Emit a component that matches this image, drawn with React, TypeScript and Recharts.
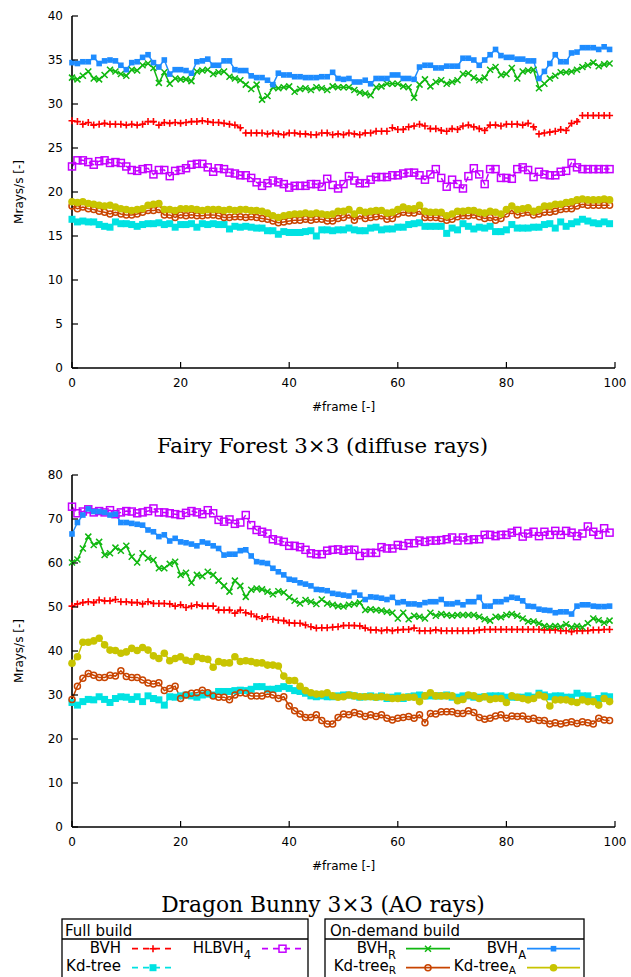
import { LineChart, Line, XAxis, YAxis } from 'recharts';

// frame index 0..99 (x categories)
const frames = Array.from({ length: 100 }, (_, i) => i);
const xTicks = [0, 20, 40, 60, 80, 100];
const ffTicks = [0, 5, 10, 15, 20, 25, 30, 35, 40];
const dbTicks = [0, 10, 20, 30, 40, 50, 60, 70, 80];

// Fairy Forest 3x3 (diffuse rays)
const ffBvh = [
  28.1, 28.0, 27.7, 27.9, 27.6, 27.7, 27.8, 27.7, 27.7, 27.7,
  27.6, 27.7, 27.6, 27.7, 28.0, 28.0, 27.6, 27.9, 27.8, 27.9,
  27.8, 27.9, 28.0, 28.0, 28.1, 28.0, 27.9, 27.9, 27.8, 27.7,
  27.6, 27.3, 26.7, 26.7, 26.7, 26.7, 26.6, 26.7, 26.6, 26.5,
  26.7, 26.7, 26.6, 26.6, 26.5, 26.5, 26.7, 26.7, 26.5, 26.6,
  26.5, 26.7, 26.6, 26.5, 26.7, 26.7, 26.9, 26.9, 26.9, 27.3,
  27.1, 27.1, 27.4, 27.5, 27.7, 27.5, 27.2, 27.2, 27.0, 26.9,
  27.2, 27.1, 27.5, 27.6, 27.4, 27.2, 27.0, 27.6, 27.6, 27.5,
  27.7, 27.7, 27.7, 27.6, 27.8, 27.4, 26.6, 26.7, 26.8, 26.9,
  27.1, 27.0, 27.8, 28.0, 28.7, 28.7, 28.7, 28.7, 28.7, 28.7,
];
const ffHlbvh = [
  22.9, 23.6, 23.6, 23.4, 23.1, 23.5, 23.6, 23.3, 23.4, 23.3,
  22.9, 22.5, 22.4, 22.6, 22.7, 22.0, 22.5, 22.5, 21.8, 22.4,
  22.5, 22.7, 23.1, 23.2, 23.2, 22.8, 22.3, 22.7, 22.6, 22.2,
  22.1, 21.9, 21.9, 21.6, 21.1, 20.7, 21.0, 21.3, 21.1, 20.9,
  20.5, 20.7, 20.7, 20.7, 20.9, 20.9, 20.6, 21.5, 20.8, 20.4,
  20.9, 21.8, 21.3, 21.0, 21.0, 21.4, 21.7, 21.7, 21.7, 21.9,
  21.9, 22.1, 22.2, 22.2, 21.9, 21.4, 22.0, 22.6, 21.6, 20.6,
  21.4, 20.9, 20.4, 21.8, 22.7, 22.0, 20.9, 22.6, 22.6, 21.6,
  21.6, 21.5, 22.6, 22.8, 22.5, 21.7, 22.3, 22.0, 21.9, 21.9,
  22.3, 22.4, 23.3, 22.8, 22.6, 22.6, 22.6, 22.6, 22.6, 22.6,
];
const ffKd = [
  16.9, 16.6, 16.7, 16.6, 16.6, 16.3, 16.1, 16.0, 16.6, 16.4,
  16.4, 16.3, 16.1, 16.3, 16.4, 16.4, 16.5, 16.3, 16.4, 16.0,
  16.3, 16.3, 16.4, 16.0, 16.4, 16.3, 16.4, 16.3, 16.3, 15.8,
  16.1, 16.0, 16.1, 16.0, 15.9, 15.9, 15.6, 15.6, 15.2, 15.5,
  15.4, 15.4, 15.4, 15.5, 15.6, 15.0, 15.7, 15.7, 15.6, 15.7,
  15.7, 15.9, 15.7, 15.6, 15.6, 15.9, 16.0, 15.7, 15.8, 15.8,
  16.0, 16.0, 16.3, 16.4, 16.5, 16.1, 16.1, 16.1, 16.1, 15.3,
  15.9, 15.7, 16.4, 16.1, 15.8, 16.0, 15.9, 16.1, 15.5, 15.5,
  15.7, 16.3, 15.9, 15.9, 15.9, 16.0, 16.0, 16.3, 16.4, 15.9,
  16.6, 16.1, 16.4, 16.6, 16.9, 16.7, 16.5, 16.4, 16.6, 16.4,
];
const ffBvhR = [
  33.0, 32.8, 33.2, 33.7, 32.9, 32.8, 33.3, 33.9, 33.7, 33.4,
  33.2, 33.9, 33.8, 34.4, 34.6, 34.1, 32.4, 33.6, 32.3, 32.9,
  32.8, 32.8, 32.6, 33.7, 33.8, 33.9, 33.4, 33.6, 33.7, 33.1,
  32.9, 32.7, 32.2, 31.7, 32.2, 30.5, 30.9, 31.9, 31.8, 31.9,
  32.0, 31.4, 31.7, 31.8, 31.6, 31.9, 31.8, 31.6, 32.0, 31.9,
  31.9, 31.9, 31.6, 31.3, 31.2, 31.0, 31.9, 32.0, 32.3, 32.3,
  32.3, 32.0, 31.9, 30.7, 32.2, 32.8, 32.0, 32.5, 32.7, 32.3,
  32.5, 32.7, 33.4, 33.5, 33.0, 32.7, 33.0, 33.9, 34.2, 33.3,
  33.4, 34.1, 32.9, 33.7, 33.8, 33.9, 31.8, 32.3, 32.9, 33.2,
  33.6, 33.6, 33.7, 33.9, 34.2, 34.4, 34.7, 34.3, 34.5, 34.6,
];
const ffBvhA = [
  34.7, 34.6, 34.8, 34.8, 35.3, 34.6, 34.9, 35.0, 34.9, 34.4,
  33.9, 34.7, 34.8, 35.3, 35.6, 34.7, 34.2, 35.0, 33.4, 33.9,
  33.9, 33.8, 33.5, 34.8, 34.9, 35.1, 34.4, 34.4, 34.9, 34.9,
  33.9, 33.8, 33.8, 33.2, 33.0, 33.0, 32.7, 32.2, 33.5, 33.3,
  33.3, 33.1, 33.1, 33.0, 33.0, 33.0, 33.1, 33.1, 33.6, 32.9,
  32.8, 32.9, 32.5, 32.5, 32.7, 32.3, 32.9, 32.9, 32.9, 33.3,
  33.3, 32.9, 32.9, 32.8, 34.2, 34.4, 34.4, 34.1, 34.1, 34.3,
  34.3, 34.3, 35.2, 35.2, 35.0, 34.4, 35.0, 35.6, 36.2, 35.5,
  35.3, 35.3, 35.1, 35.1, 34.9, 34.9, 32.9, 33.7, 34.6, 35.6,
  34.8, 34.8, 35.8, 35.9, 36.4, 36.4, 36.4, 36.2, 36.5, 36.2,
];
const ffKdR = [
  18.4, 18.1, 18.3, 18.1, 18.0, 17.8, 17.7, 17.5, 17.7, 17.5,
  17.4, 17.4, 17.5, 17.7, 17.9, 17.9, 18.0, 17.4, 17.4, 17.1,
  17.4, 17.3, 17.4, 17.3, 17.3, 17.4, 17.4, 17.3, 17.1, 17.1,
  17.2, 17.2, 17.1, 17.2, 17.1, 17.0, 16.9, 16.7, 16.5, 16.6,
  16.7, 16.8, 16.8, 16.9, 16.8, 16.9, 16.9, 16.7, 16.7, 17.0,
  17.1, 17.4, 16.8, 17.3, 17.0, 17.1, 17.2, 17.3, 16.9, 17.0,
  17.5, 17.7, 17.6, 17.6, 17.8, 17.1, 17.1, 17.1, 17.0, 16.8,
  16.9, 17.2, 17.3, 17.3, 17.4, 17.2, 17.0, 17.1, 16.8, 17.0,
  17.5, 17.9, 17.4, 17.6, 17.7, 17.4, 17.5, 17.7, 17.7, 17.8,
  18.0, 18.1, 18.1, 18.4, 18.6, 18.5, 18.5, 18.5, 18.5, 18.5,
];
const ffKdA = [
  18.9, 18.8, 18.9, 18.7, 18.6, 18.5, 18.4, 18.5, 18.3, 18.1,
  18.0, 17.9, 18.0, 18.1, 18.5, 18.6, 18.7, 18.0, 18.0, 17.9,
  18.1, 18.1, 18.1, 18.0, 17.9, 18.0, 18.0, 18.0, 17.9, 18.0,
  17.9, 18.0, 18.0, 17.9, 17.9, 17.8, 17.6, 17.3, 17.1, 17.3,
  17.4, 17.5, 17.5, 17.6, 17.5, 17.6, 17.5, 17.4, 17.5, 17.8,
  17.8, 18.0, 17.5, 17.9, 17.7, 17.8, 17.9, 17.9, 17.6, 17.7,
  18.0, 18.3, 18.1, 18.1, 18.5, 17.8, 17.7, 17.7, 17.7, 17.3,
  17.5, 17.8, 17.8, 17.9, 17.9, 17.7, 17.6, 17.8, 17.7, 17.5,
  18.0, 18.4, 18.0, 18.1, 18.2, 17.8, 18.0, 18.4, 18.4, 18.6,
  18.6, 18.8, 18.9, 19.1, 19.2, 19.1, 19.1, 19.1, 19.2, 19.1,
];

// Dragon Bunny 3x3 (AO rays)
const dbBvh = [
  50.2, 50.7, 51.0, 51.2, 51.0, 51.6, 51.4, 51.4, 51.7, 51.2,
  51.2, 51.0, 51.0, 50.7, 51.2, 50.8, 50.8, 50.8, 50.7, 50.2,
  50.5, 49.9, 50.2, 50.5, 50.2, 50.2, 50.2, 49.3, 49.3, 49.3,
  48.6, 49.3, 48.7, 48.4, 47.8, 47.4, 47.8, 47.2, 47.0, 46.9,
  46.4, 46.3, 46.3, 45.9, 45.5, 45.2, 45.3, 45.3, 45.4, 45.5,
  45.8, 45.8, 45.8, 45.7, 45.2, 44.8, 44.8, 44.6, 44.8, 44.6,
  44.8, 44.9, 44.9, 45.2, 44.6, 44.6, 44.6, 44.8, 44.6, 44.6,
  44.6, 44.6, 44.6, 44.6, 44.6, 44.8, 44.9, 44.9, 44.9, 44.9,
  44.9, 44.9, 44.9, 44.9, 44.9, 44.9, 44.9, 44.8, 44.8, 44.8,
  44.6, 44.6, 44.4, 44.6, 44.6, 44.6, 44.8, 44.8, 44.9, 44.9,
];
const dbHlbvh = [
  72.8, 71.3, 71.7, 72.2, 71.5, 71.8, 71.5, 72.0, 71.1, 71.5,
  71.8, 71.7, 71.3, 71.5, 71.8, 72.4, 71.5, 71.5, 71.3, 71.1,
  70.9, 71.4, 71.8, 71.5, 71.1, 72.0, 71.3, 69.8, 69.4, 69.9,
  68.9, 69.2, 70.9, 68.6, 67.5, 67.1, 66.7, 65.4, 65.1, 64.8,
  63.9, 63.9, 63.6, 63.0, 62.2, 62.0, 62.0, 62.8, 63.0, 63.1,
  62.8, 63.0, 63.0, 61.6, 62.3, 62.3, 62.3, 63.6, 63.3, 63.3,
  64.1, 63.9, 64.5, 64.5, 65.1, 64.8, 65.1, 65.1, 65.2, 65.4,
  65.8, 65.1, 65.8, 65.2, 65.4, 65.4, 66.4, 66.4, 66.1, 66.4,
  66.4, 66.9, 67.3, 66.0, 66.7, 67.1, 66.1, 67.1, 66.4, 67.3,
  66.4, 67.3, 66.9, 66.1, 66.7, 68.3, 67.1, 66.4, 67.9, 66.9,
];
const dbKd = [
  28.3, 27.7, 28.5, 29.0, 28.9, 29.6, 29.0, 28.3, 29.2, 29.6,
  29.5, 29.0, 29.6, 28.5, 29.8, 29.2, 28.9, 27.7, 29.6, 29.5,
  29.8, 30.0, 29.8, 29.5, 30.0, 30.2, 30.0, 30.8, 30.8, 30.8,
  31.0, 31.1, 31.0, 31.3, 31.9, 31.9, 31.3, 31.3, 31.5, 31.9,
  31.5, 31.0, 30.8, 30.4, 29.8, 29.6, 29.8, 29.6, 29.6, 29.8,
  30.0, 30.0, 29.8, 29.5, 29.6, 29.8, 29.5, 29.8, 29.2, 29.5,
  29.8, 29.2, 29.6, 29.8, 30.0, 29.8, 29.8, 29.8, 29.8, 30.0,
  29.5, 29.5, 29.8, 29.8, 29.5, 29.5, 29.6, 29.8, 29.8, 29.8,
  29.5, 29.5, 29.5, 29.5, 29.8, 29.5, 30.4, 30.0, 29.6, 29.8,
  29.8, 29.5, 29.5, 30.4, 29.8, 29.8, 28.9, 29.2, 29.8, 29.6,
];
const dbBvhR = [
  60.1, 60.8, 63.3, 66.0, 64.1, 64.8, 61.8, 62.2, 63.5, 62.8,
  63.9, 61.4, 60.1, 62.2, 61.1, 60.7, 58.8, 58.8, 59.8, 60.3,
  57.3, 57.8, 55.5, 57.3, 57.0, 58.0, 57.3, 56.0, 54.8, 53.5,
  56.0, 54.8, 52.3, 53.9, 54.2, 54.0, 53.5, 52.9, 53.6, 53.3,
  52.2, 51.4, 50.8, 51.6, 51.2, 50.7, 51.7, 50.8, 50.5, 50.2,
  50.1, 50.5, 50.7, 51.0, 49.3, 49.5, 49.3, 49.2, 48.9, 48.7,
  47.4, 48.7, 47.2, 48.0, 47.8, 47.4, 48.7, 48.0, 48.4, 48.2,
  48.0, 48.2, 48.2, 48.2, 48.2, 47.8, 47.2, 46.9, 47.8, 47.7,
  48.2, 48.4, 48.0, 47.4, 46.7, 46.7, 46.3, 45.7, 45.5, 45.7,
  45.5, 46.1, 45.4, 45.7, 45.4, 46.3, 47.4, 47.0, 46.4, 46.9,
];
const dbBvhA = [
  66.6, 69.2, 70.9, 72.3, 71.7, 71.7, 71.5, 70.9, 71.1, 69.2,
  69.2, 69.0, 68.8, 68.6, 67.5, 67.1, 66.0, 66.4, 65.0, 65.6,
  64.8, 64.6, 64.3, 63.9, 64.8, 64.5, 63.9, 63.3, 61.8, 62.0,
  62.0, 62.8, 63.0, 61.6, 60.3, 60.1, 59.9, 58.8, 58.0, 57.3,
  56.3, 56.1, 55.5, 55.2, 54.8, 54.0, 53.9, 53.7, 53.1, 52.9,
  52.7, 52.5, 53.3, 52.7, 51.7, 52.3, 52.2, 52.0, 51.7, 52.2,
  51.0, 51.2, 50.7, 50.7, 50.5, 51.0, 51.2, 51.2, 51.7, 50.7,
  50.7, 51.0, 50.5, 51.2, 51.2, 52.2, 50.2, 50.2, 51.2, 51.2,
  51.7, 52.2, 52.0, 51.4, 50.2, 50.1, 49.5, 49.3, 49.2, 48.7,
  48.9, 48.9, 48.4, 50.2, 50.5, 50.5, 50.2, 50.1, 50.1, 50.2,
];
const dbKdR = [
  29.0, 32.0, 33.8, 34.9, 34.5, 34.0, 34.0, 34.5, 34.3, 35.5,
  34.2, 34.0, 34.0, 33.4, 32.7, 32.5, 32.8, 31.0, 31.5, 32.0,
  29.2, 30.0, 30.4, 30.5, 31.1, 30.5, 29.8, 29.5, 29.5, 28.9,
  30.0, 30.5, 30.4, 29.8, 29.8, 29.8, 30.2, 30.0, 29.2, 29.6,
  27.5, 26.4, 25.7, 24.9, 24.9, 25.5, 24.2, 23.4, 23.4, 24.9,
  25.7, 25.5, 26.0, 25.7, 25.1, 25.5, 25.1, 25.5, 24.7, 24.3,
  24.7, 24.9, 25.1, 24.7, 25.5, 23.7, 25.8, 25.7, 26.2, 26.2,
  26.2, 25.8, 25.8, 26.4, 26.0, 24.9, 24.5, 24.7, 25.2, 25.5,
  24.7, 25.2, 25.1, 25.2, 24.5, 24.7, 24.2, 24.2, 23.4, 23.7,
  23.4, 23.7, 23.9, 23.5, 23.9, 23.7, 23.4, 24.7, 24.3, 24.2,
];
const dbKdA = [
  37.2, 38.7, 42.0, 42.0, 42.3, 42.9, 41.4, 40.2, 40.1, 39.5,
  39.8, 40.6, 40.1, 40.8, 40.2, 38.9, 38.3, 39.5, 37.8, 38.3,
  38.7, 37.9, 37.6, 38.7, 38.3, 38.1, 36.3, 37.6, 37.3, 37.3,
  38.7, 37.6, 37.8, 37.6, 37.3, 37.3, 36.8, 36.8, 36.6, 34.3,
  33.3, 33.3, 32.0, 31.0, 30.5, 30.2, 30.2, 30.5, 29.8, 29.5,
  29.6, 30.0, 29.8, 29.6, 29.6, 29.6, 29.5, 29.6, 29.5, 29.2,
  29.2, 29.5, 29.5, 29.5, 28.5, 29.8, 30.5, 29.8, 29.8, 29.8,
  29.8, 28.7, 29.0, 30.0, 29.8, 29.2, 29.6, 29.0, 29.2, 29.2,
  28.3, 29.8, 29.5, 29.2, 28.9, 29.2, 30.0, 29.6, 27.5, 28.9,
  28.9, 28.9, 28.5, 28.3, 28.9, 28.5, 28.5, 27.7, 29.2, 28.5,
];

const RED = '#ff0000';
const PURPLE = '#c400ff';
const CYAN = '#00e2e2';
const GREEN = '#11b811';
const BLUE = '#1e8cff';
const BROWN = '#c84400';
const YELLOW = '#c8c400';

const series = [
  { key: 'bvh', color: RED, kind: 'plus', dash: true },
  { key: 'hlbvh', color: PURPLE, kind: 'box', dash: true },
  { key: 'kd', color: CYAN, kind: 'fbox', dash: true },
  { key: 'bvhR', color: GREEN, kind: 'cross', dash: false },
  { key: 'bvhA', color: BLUE, kind: 'fsmall', dash: false },
  { key: 'kdR', color: BROWN, kind: 'ring', dash: false },
  { key: 'kdA', color: YELLOW, kind: 'disc', dash: false },
];

const ffRows = frames.map((f, i) => ({
  frame: f, bvh: ffBvh[i], hlbvh: ffHlbvh[i], kd: ffKd[i],
  bvhR: ffBvhR[i], bvhA: ffBvhA[i], kdR: ffKdR[i], kdA: ffKdA[i],
}));
const dbRows = frames.map((f, i) => ({
  frame: f, bvh: dbBvh[i], hlbvh: dbHlbvh[i], kd: dbKd[i],
  bvhR: dbBvhR[i], bvhA: dbBvhA[i], kdR: dbKdR[i], kdA: dbKdA[i],
}));

const SANS = 'DejaVu Sans';
const SERIF = 'DejaVu Serif';

function Mark({ kind, color, cx, cy }: { kind: string; color: string; cx: number; cy: number }) {
  if (cx == null || cy == null) return null;
  switch (kind) {
    case 'plus':
      return <path d={`M${cx - 3.5},${cy}h7M${cx},${cy - 3.5}v7`} stroke={color} strokeWidth={1.6} fill="none" />;
    case 'cross':
      return <path d={`M${cx - 3},${cy - 3}l6,6M${cx - 3},${cy + 3}l6,-6`} stroke={color} strokeWidth={1.5} fill="none" />;
    case 'box':
      return <rect x={cx - 3.5} y={cy - 3.5} width={7} height={7} stroke={color} strokeWidth={1.5} fill="none" />;
    case 'fbox':
      return <rect x={cx - 3.5} y={cy - 3.5} width={7} height={7} fill={color} />;
    case 'fsmall':
      return <rect x={cx - 2.8} y={cy - 2.8} width={5.6} height={5.6} fill={color} />;
    case 'ring':
      return <circle cx={cx} cy={cy} r={3} stroke={color} strokeWidth={1.5} fill="none" />;
    default:
      return <circle cx={cx} cy={cy} r={3.8} fill={color} />;
  }
}

const M = 10;
const tickStroke = { stroke: '#000', strokeWidth: 1.2 };
const frameLine = { stroke: '#000', strokeWidth: 1.6 };

const BottomTick = (p: any) => {
  const ay = p.y - M;
  return (
    <g>
      <line x1={p.x} x2={p.x} y1={ay} y2={ay - 6} {...tickStroke} />
      <text x={p.x} y={ay + 18.5} textAnchor="middle" fontFamily={SANS} fontSize={12} fill="#000">
        {p.payload.value}
      </text>
    </g>
  );
};
const TopTick = (p: any) => {
  const ay = p.y + M;
  return <line x1={p.x} x2={p.x} y1={ay} y2={ay + 6} {...tickStroke} />;
};
const LeftTick = (p: any) => {
  const ax = p.x + M;
  return (
    <g>
      <line x1={ax} x2={ax + 6} y1={p.y} y2={p.y} {...tickStroke} />
      <text x={ax - 9} y={p.y + 4.3} textAnchor="end" fontFamily={SANS} fontSize={12} fill="#000">
        {p.payload.value}
      </text>
    </g>
  );
};
const RightTick = (p: any) => {
  const ax = p.x - M;
  return <line x1={ax} x2={ax - 6} y1={p.y} y2={p.y} {...tickStroke} />;
};

function Panel({ rows, yMax, yTicks, top }: { rows: any[]; yMax: number; yTicks: number[]; top: number }) {
  return (
    <div style={{ position: 'absolute', left: 0, top }}>
      <LineChart width={631} height={400} data={rows} margin={{ top: 16, right: 16, bottom: 0, left: 0 }}>
        <XAxis xAxisId="b" dataKey="frame" type="number" domain={[0, 100]} ticks={xTicks} interval={0}
          height={32} tickSize={0} tickMargin={M} tickLine={false} axisLine={frameLine} tick={BottomTick} />
        <XAxis xAxisId="t" orientation="top" dataKey="frame" type="number" domain={[0, 100]} ticks={xTicks}
          interval={0} height={0} tickSize={0} tickMargin={M} tickLine={false} axisLine={frameLine} tick={TopTick} />
        <YAxis yAxisId="l" type="number" domain={[0, yMax]} ticks={yTicks} interval={0} width={72}
          tickSize={0} tickMargin={M} tickLine={false} axisLine={frameLine} tick={LeftTick} />
        <YAxis yAxisId="r" orientation="right" type="number" domain={[0, yMax]} ticks={yTicks} interval={0}
          width={0} tickSize={0} tickMargin={M} tickLine={false} axisLine={frameLine} tick={RightTick} />
        {series.map((s) => (
          <Line
            key={s.key}
            xAxisId="b"
            yAxisId="l"
            type="linear"
            dataKey={s.key}
            stroke={s.color}
            strokeWidth={1.5}
            strokeDasharray={s.dash ? '6 4' : undefined}
            isAnimationActive={false}
            activeDot={false}
            dot={(d: any) => <Mark key={`${s.key}-${d.index}`} kind={s.kind} color={s.color} cx={d.cx} cy={d.cy} />}
          />
        ))}
      </LineChart>
    </div>
  );
}

function Sample({ x1, x2, y, color, kind, dash }: any) {
  return (
    <g>
      <line x1={x1} x2={x2} y1={y} y2={y} stroke={color} strokeWidth={1.8} strokeDasharray={dash ? '6 5' : undefined} />
      <Mark kind={kind} color={color} cx={(x1 + x2) / 2} cy={y} />
    </g>
  );
}

function Overlay() {
  const lt = { fontFamily: SANS, fontSize: 15, fill: '#000' };
  const sub = { fontSize: 11.5 };
  const sub2 = { fontSize: 10.5 };
  return (
    <svg width={631} height={977} style={{ position: 'absolute', left: 0, top: 0, pointerEvents: 'none' }}>
      {/* axis labels */}
      <text x={343.5} y={411} textAnchor="middle" fontFamily={SANS} fontSize={12}>#frame [-]</text>
      <text x={343.5} y={870} textAnchor="middle" fontFamily={SANS} fontSize={12}>#frame [-]</text>
      <text transform="translate(22.5,192) rotate(-90)" textAnchor="middle" fontFamily={SANS} fontSize={12}>Mrays/s [-]</text>
      <text transform="translate(22.5,651) rotate(-90)" textAnchor="middle" fontFamily={SANS} fontSize={12}>Mrays/s [-]</text>
      {/* panel titles */}
      <text x={322.5} y={452.5} textAnchor="middle" fontFamily={SERIF} fontSize={21.3}>Fairy Forest 3×3 (diffuse rays)</text>
      <text x={323} y={911.5} textAnchor="middle" fontFamily={SERIF} fontSize={21.8}>Dragon Bunny 3×3 (AO rays)</text>

      {/* legend: full build */}
      <rect x={62} y={919} width={246} height={80} fill="none" stroke="#000" strokeWidth={1.3} />
      <line x1={62} x2={308} y1={939} y2={939} stroke="#000" strokeWidth={1.3} />
      <text x={65} y={935.5} {...lt}>Full build</text>
      <text x={121} y={952.7} textAnchor="end" {...lt}>BVH</text>
      <Sample x1={132} x2={174} y={948.7} color={RED} kind="plus" dash />
      <text x={251} y={952.7} textAnchor="end" {...lt}>HLBVH<tspan dy={6} {...sub}>4</tspan></text>
      <Sample x1={262} x2={303} y={948.7} color={PURPLE} kind="box" dash />
      <text x={121} y={971} textAnchor="end" {...lt}>Kd-tree</text>
      <Sample x1={132} x2={174} y={967.7} color={CYAN} kind="fbox" dash />

      {/* legend: on-demand build */}
      <rect x={325} y={919} width={259} height={80} fill="none" stroke="#000" strokeWidth={1.3} />
      <line x1={325} x2={584} y1={939} y2={939} stroke="#000" strokeWidth={1.3} />
      <text x={330} y={935.5} {...lt}>On-demand build</text>
      <text x={396} y={952.7} textAnchor="end" {...lt}>BVH<tspan dy={6} {...sub}>R</tspan></text>
      <Sample x1={406} x2={450} y={948.7} color={GREEN} kind="cross" />
      <text x={526} y={952.7} textAnchor="end" {...lt}>BVH<tspan dy={6} {...sub}>A</tspan></text>
      <Sample x1={527} x2={580} y={948.7} color={BLUE} kind="fsmall" />
      <text x={396} y={970.5} textAnchor="end" {...lt}>Kd-tree<tspan dy={3} {...sub2}>R</tspan></text>
      <Sample x1={406} x2={450} y={967.7} color={BROWN} kind="ring" />
      <text x={516} y={970.5} textAnchor="end" {...lt}>Kd-tree<tspan dy={3} {...sub2}>A</tspan></text>
      <Sample x1={527} x2={580} y={967.7} color={YELLOW} kind="disc" />
    </svg>
  );
}

export default function App() {
  return (
    <div style={{ position: 'absolute', left: 0, top: 0, width: 631, height: 977, background: '#fff', overflow: 'hidden' }}>
      <Panel rows={ffRows} yMax={40} yTicks={ffTicks} top={0} />
      <Panel rows={dbRows} yMax={80} yTicks={dbTicks} top={459} />
      <Overlay />
    </div>
  );
}
